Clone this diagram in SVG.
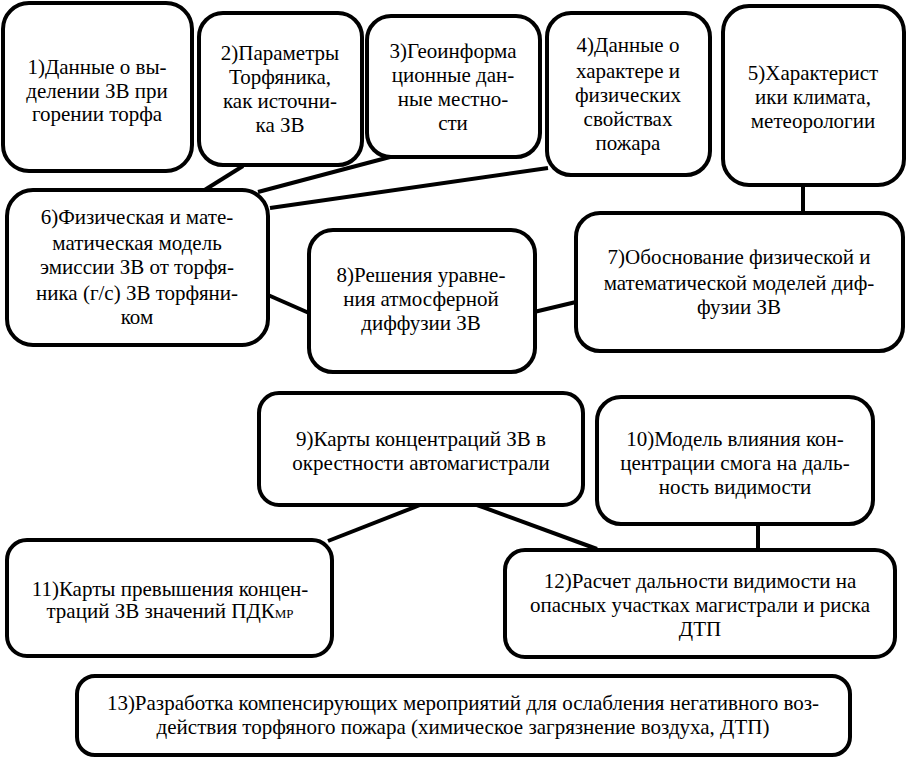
<svg xmlns="http://www.w3.org/2000/svg" width="907" height="759" viewBox="0 0 907 759">
<style>
.b{fill:#fff;stroke:#000;stroke-width:4}
.c{stroke:#000;stroke-width:4;fill:none}
</style>
<rect width="907" height="759" fill="#fff"/>
<g id="connectors">
<line class="c" x1="243" y1="166" x2="203" y2="191"/>
<line class="c" x1="390" y1="157" x2="258" y2="192"/>
<line class="c" x1="548" y1="168" x2="270" y2="208"/>
<line class="c" x1="803" y1="184" x2="803" y2="214"/>
<line class="c" x1="268" y1="295" x2="309" y2="313"/>
<line class="c" x1="534" y1="312" x2="576" y2="302"/>
<line class="c" x1="420" y1="505" x2="328" y2="541"/>
<line class="c" x1="477" y1="505" x2="597" y2="549"/>
<line class="c" x1="758" y1="524" x2="758" y2="551"/>
</g>
<g font-family="Liberation Serif, Times New Roman, serif" font-size="21" text-anchor="middle" fill="#000">
<g id="n1"><rect class="b" x="3" y="3" width="189" height="168" rx="26"/>
<text x="97" y="74">1)Данные о вы-</text><text x="97" y="98">делении ЗВ при</text><text x="97" y="121">горении торфа</text></g>
<g id="n2"><rect class="b" x="199" y="13" width="163" height="152" rx="24"/>
<text x="280" y="60">2)Параметры</text><text x="280" y="84">Торфяника,</text><text x="280" y="108">как источни-</text><text x="280" y="132">ка ЗВ</text></g>
<g id="n3"><rect class="b" x="367" y="16" width="173" height="141" rx="24"/>
<text x="453" y="58">3)Геоинформа</text><text x="453" y="82">ционные дан-</text><text x="453" y="106">ные местно-</text><text x="453" y="130">сти</text></g>
<g id="n4"><rect class="b" x="547" y="13" width="163" height="162" rx="24"/>
<text x="628" y="52">4)Данные о</text><text x="628" y="78">характере и</text><text x="628" y="102">физических</text><text x="628" y="126">свойствах</text><text x="628" y="150">пожара</text></g>
<g id="n5"><rect class="b" x="723" y="6" width="181" height="179" rx="26"/>
<text x="813" y="80">5)Характерист</text><text x="813" y="104">ики климата,</text><text x="813" y="128">метеорологии</text></g>
<g id="n6"><rect class="b" x="7" y="190" width="261" height="155" rx="26"/>
<text x="137" y="224">6)Физическая и мате-</text><text x="137" y="250">матическая модель</text><text x="137" y="274">эмиссии ЗВ от торфя-</text><text x="137" y="300">ника (г/с) ЗВ торфяни-</text><text x="137" y="324">ком</text></g>
<g id="n8"><rect class="b" x="309" y="230" width="226" height="142" rx="24"/>
<text x="421" y="282">8)Решения уравне-</text><text x="421" y="306">ния атмосферной</text><text x="421" y="330">диффузии ЗВ</text></g>
<g id="n7"><rect class="b" x="576" y="213" width="327" height="138" rx="24"/>
<text x="739" y="264">7)Обоснование физической и</text><text x="739" y="290">математической моделей диф-</text><text x="739" y="314">фузии ЗВ</text></g>
<g id="n9"><rect class="b" x="259" y="393" width="324" height="112" rx="20"/>
<text x="421" y="446">9)Карты концентраций ЗВ в</text><text x="421" y="470">окрестности автомагистрали</text></g>
<g id="n10"><rect class="b" x="597" y="397" width="276" height="127" rx="24"/>
<text x="735" y="446">10)Модель влияния кон-</text><text x="735" y="470">центрации смога на даль-</text><text x="735" y="494">ность видимости</text></g>
<g id="n11"><rect class="b" x="7" y="540" width="325" height="116" rx="20"/>
<text x="170" y="596">11)Карты превышения концен-</text><text x="170" y="618">траций ЗВ значений ПДК<tspan font-size="13">МР</tspan></text></g>
<g id="n12"><rect class="b" x="505" y="550" width="390" height="107" rx="20"/>
<text x="700" y="588">12)Расчет дальности видимости на</text><text x="700" y="612">опасных участках магистрали и риска</text><text x="700" y="636">ДТП</text></g>
<g id="n13"><rect class="b" x="77" y="676" width="773" height="79" rx="18"/>
<text x="463" y="710">13)Разработка компенсирующих мероприятий для ослабления негативного воз-</text><text x="463" y="734">действия торфяного пожара (химическое загрязнение воздуха, ДТП)</text></g>
</g>
</svg>
